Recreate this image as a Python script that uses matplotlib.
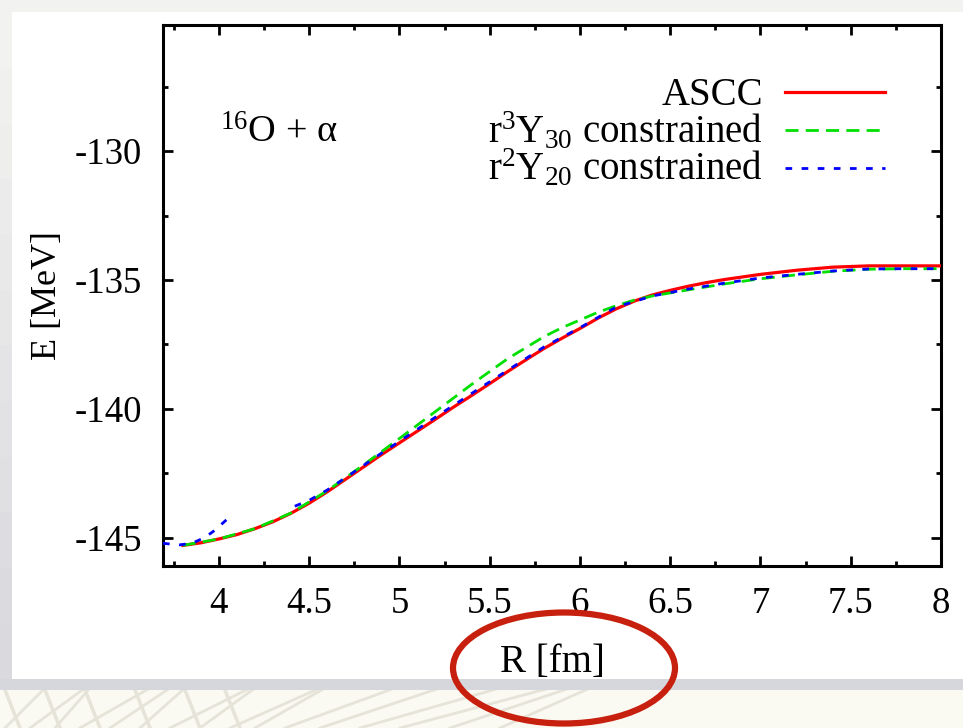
import numpy as np
import matplotlib.pyplot as plt
from matplotlib.patches import Rectangle, Ellipse
from matplotlib.lines import Line2D

plt.rcParams['font.family'] = 'Liberation Serif'
plt.rcParams['mathtext.fontset'] = 'custom'
plt.rcParams['mathtext.rm'] = 'Liberation Serif'
plt.rcParams['mathtext.it'] = 'Liberation Serif:italic'
plt.rcParams['mathtext.default'] = 'rm'
plt.rcParams['axes.unicode_minus'] = False

# ASCC collective path, E(R)
r_ascc = [3.8, 3.9, 4.0, 4.1, 4.2, 4.3, 4.4, 4.5, 4.6, 4.7, 4.8, 4.9, 5.0,
          5.1, 5.2, 5.3, 5.4, 5.5, 5.6, 5.7, 5.8, 5.9, 6.0, 6.1, 6.2, 6.3,
          6.4, 6.5, 6.6, 6.7, 6.8, 6.9, 7.0, 7.2, 7.4, 7.6, 7.8, 8.0]
e_ascc = [-145.30, -145.20, -145.05, -144.88, -144.65, -144.38, -144.05,
          -143.66, -143.22, -142.74, -142.26, -141.78, -141.32, -140.86,
          -140.40, -139.93, -139.48, -139.02, -138.55, -138.10, -137.66,
          -137.26, -136.88, -136.48, -136.12, -135.82, -135.58, -135.40,
          -135.24, -135.10, -134.98, -134.88, -134.78, -134.62, -134.50,
          -134.45, -134.45, -134.45]

# r^3 Y30 constrained
r_y30 = [3.8, 4.0, 4.2, 4.4, 4.6, 4.8, 5.0, 5.2, 5.4, 5.6, 5.8, 5.9, 6.0,
         6.1, 6.2, 6.3, 6.4, 6.6, 6.8, 7.0, 7.2, 7.4, 7.6, 7.8, 8.0]
e_y30 = [-145.30, -145.05, -144.65, -144.04, -143.18, -142.18, -141.15,
         -140.10, -139.05, -138.05, -137.20, -136.85, -136.55, -136.25,
         -136.00, -135.78, -135.62, -135.38, -135.15, -134.95, -134.80,
         -134.66, -134.58, -134.56, -134.56]

# r^2 Y20 constrained (two branches)
r_y20_low = [3.69, 3.78, 3.85, 3.92, 3.98, 4.05]
e_y20_low = [-145.22, -145.28, -145.22, -145.00, -144.70, -144.25]
r_y20 = [4.42, 4.5, 4.6, 4.7, 4.8, 4.9, 5.0, 5.2, 5.4, 5.6, 5.8, 6.0, 6.2,
         6.4, 6.6, 6.8, 7.0, 7.2, 7.4, 7.6, 7.8, 8.0]
e_y20 = [-143.78, -143.55, -143.15, -142.68, -142.20, -141.72, -141.26,
         -140.32, -139.40, -138.50, -137.60, -136.85, -136.05, -135.62,
         -135.35, -135.12, -134.92, -134.78, -134.65, -134.57, -134.56,
         -134.56]

x_ticks = [4, 4.5, 5, 5.5, 6, 6.5, 7, 7.5, 8]
x_labels = ['4', '4.5', '5', '5.5', '6', '6.5', '7', '7.5', '8']
y_ticks = [-145, -140, -135, -130]

W, H = 963, 728


def fx(x):
    return x / W


def fy(y):
    return 1 - y / H


fig = plt.figure(figsize=(W / 100, H / 100), dpi=100, facecolor='#fafaf3')

# slide background: faint leaf strokes along the bottom
leaf = '#e6e3d8'
for x0, dx in [(5, 40), (30, 55), (55, 35), (80, 70), (110, 60), (140, 45),
               (170, 80), (200, 55), (230, 90), (255, 70), (285, 110),
               (320, 120), (360, 140), (400, 150), (450, 120), (500, 90)]:
    fig.add_artist(Line2D([fx(x0), fx(x0 + dx)], [fy(728), fy(688)],
                          color=leaf, lw=2.0, zorder=-3))
for x0 in [20, 60, 100, 150, 200, 240]:
    fig.add_artist(Line2D([fx(x0), fx(x0 - 15)], [fy(728), fy(690)],
                          color=leaf, lw=2.5, zorder=-3))

# slide panel frame and white area
fig.add_artist(Rectangle((fx(0), fy(690)), fx(963), 690 / H,
                         facecolor='#d6d7dd', edgecolor='none', zorder=-2))
fig.add_artist(Rectangle((fx(0), fy(679)), fx(963), 679 / H,
                         facecolor='#f2f2f0', edgecolor='none', zorder=-1.9))
# left edge shading, light at the top, darker towards the bottom
shades = np.linspace(0, 1, 12)
for i, t in enumerate(shades):
    g = (0.95 - 0.10 * t, 0.95 - 0.10 * t, 0.94 - 0.07 * t)
    y0 = 12 + i * (667 / len(shades))
    fig.add_artist(Rectangle((fx(0), fy(y0 + 667 / len(shades))), fx(12),
                             (667 / len(shades)) / H, facecolor=g,
                             edgecolor='none', zorder=-1.8))
fig.add_artist(Rectangle((fx(12), fy(679)), fx(951), 667 / H,
                         facecolor='white', edgecolor='none', zorder=-1.7))

ax = fig.add_axes([fx(163), fy(566), fx(941 - 163), (566 - 25) / H])
ax.set_zorder(2)
ax.set_facecolor('white')

ax.plot(r_ascc, e_ascc, color='#ff0000', lw=2.3, zorder=3)
ax.plot(r_y30, e_y30, color='#00e000', lw=2.0, dashes=(4.7, 2.6), zorder=4)
ax.plot(r_y20, e_y20, color='#0000ff', lw=2.0, dashes=(2.4, 3.4), zorder=5)
ax.plot(r_y20_low, e_y20_low, color='#0000ff', lw=2.0, dashes=(2.4, 3.4),
        zorder=5)

ax.set_xlim(3.69, 8.0)
ax.set_ylim(-146.1, -125.1)
ax.set_xticks(x_ticks)
ax.set_xticklabels(x_labels)
ax.set_xticks(np.arange(3.75, 8.01, 0.25), minor=True)
ax.set_yticks(y_ticks)
ax.set_yticks(np.arange(-145, -125.0, 2.5), minor=True)
ax.tick_params(which='both', direction='in', top=True, right=True,
               width=2.0, labelsize=26.5)
ax.tick_params(which='major', length=7, pad=15)
ax.tick_params(which='minor', length=3.5)
for sp in ax.spines.values():
    sp.set_linewidth(2.2)

ax.set_ylabel('E [MeV]', fontsize=26, labelpad=8)
ax.set_xlabel('R [fm]', fontsize=28, labelpad=16)

ax.text(0.073, 0.782, '$^{16}$O + \u03b1', transform=ax.transAxes,
        fontsize=27.5, ha='left', va='baseline')

# key: text right-justified, sample to the right
key = [('ASCC', '#ff0000', None, 2.3, 0.852, 0.876),
       ('r$^3$Y$_{30}$ constrained', '#00e000', (4.7, 2.6), 2.0, 0.782, 0.806),
       ('r$^2$Y$_{20}$ constrained', '#0000ff', (2.4, 3.4), 2.0, 0.713, 0.736)]
for label, col, dash, lw, ty, ly in key:
    ax.text(0.771, ty, label, transform=ax.transAxes, fontsize=28,
            ha='right', va='baseline')
    ln = Line2D([0.799, 0.928], [ly, ly], transform=ax.transAxes,
                color=col, lw=lw)
    if dash:
        ln.set_dashes(dash)
    ax.add_line(ln)

# highlight around the axis title
fig.add_artist(Ellipse((fx(564), fy(668)), fx(222), 111 / H, fill=False,
                       edgecolor='#c8200e', lw=4.5, zorder=10))

fig.savefig('out.png', dpi=100, facecolor=fig.get_facecolor())
